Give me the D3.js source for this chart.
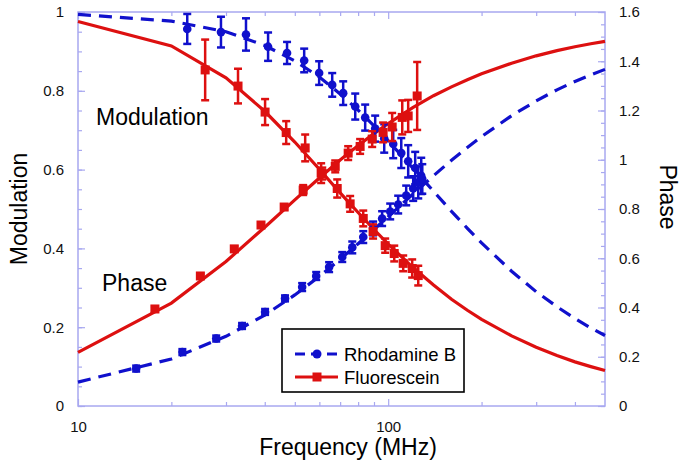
<!DOCTYPE html>
<html><head><meta charset="utf-8">
<script src="https://cdn.jsdelivr.net/npm/d3@7"></script>
<style>body{margin:0;background:#fff}svg{display:block;font-family:"Liberation Sans",Arial,sans-serif}</style>
</head><body><svg id="c" width="683" height="470"></svg>
<script>
// ---- data ----
const curveFreq = [10,20,30,40,50,60,70,80,90,100,120,140,160,180,200,250,300,350,400,450,500];
const fluorModCurve   = [0.976,0.914,0.833,0.748,0.670,0.601,0.541,0.491,0.448,0.411,0.352,0.307,0.271,0.243,0.220,0.178,0.149,0.128,0.112,0.100,0.090];
const fluorPhaseCurve = [0.218,0.418,0.587,0.726,0.837,0.926,0.999,1.058,1.106,1.147,1.212,1.260,1.296,1.325,1.349,1.392,1.422,1.443,1.459,1.471,1.481];
const rhodModCurve    = [0.994,0.977,0.950,0.915,0.876,0.835,0.792,0.751,0.711,0.673,0.604,0.545,0.494,0.451,0.414,0.342,0.290,0.252,0.222,0.198,0.179];
const rhodPhaseCurve  = [0.097,0.191,0.283,0.369,0.451,0.526,0.596,0.659,0.717,0.769,0.860,0.935,0.998,1.050,1.094,1.179,1.239,1.284,1.318,1.345,1.367];

const fluorModFreq = [25.7,32.8,40.1,46.9,54.0,60.8,68.5,75.4,83.1,89.4,97.8,104.6,111.8,119.5,125.0];
const fluorMod     = [0.853,0.812,0.746,0.694,0.655,0.591,0.552,0.513,0.476,0.443,0.407,0.387,0.362,0.349,0.331];
const fluorModErr  = [0.077,0.044,0.033,0.029,0.034,0.025,0.023,0.020,0.020,0.018,0.018,0.020,0.020,0.023,0.025];

const fluorPhaseFreq = [17.7,24.8,31.9,38.9,46.2,53.2,61.3,67.5,74.3,81.2,88.8,96.3,103.0,111.0,116.0,124.0];
const fluorPhase     = [0.394,0.528,0.638,0.735,0.808,0.877,0.944,0.973,1.027,1.054,1.084,1.111,1.133,1.172,1.178,1.259];
const fluorPhaseErr  = [0.010,0.010,0.010,0.010,0.010,0.020,0.024,0.024,0.028,0.030,0.032,0.040,0.057,0.069,0.065,0.138];

const rhodModFreq = [22.5,28.9,34.8,41.0,47.2,53.6,59.9,66.0,71.6,78.3,84.3,90.8,97.1,103.8,110.2,116.0,122.2,127.8];
const rhodMod     = [0.957,0.949,0.943,0.912,0.896,0.877,0.845,0.815,0.794,0.760,0.732,0.704,0.679,0.665,0.642,0.621,0.604,0.584];
const rhodModErr  = [0.038,0.039,0.041,0.036,0.028,0.030,0.030,0.030,0.030,0.033,0.033,0.033,0.036,0.036,0.038,0.041,0.041,0.046];

const rhodPhaseFreq = [15.4,21.7,27.9,33.8,40.1,46.5,52.8,58.6,64.5,71.1,76.6,83.1,89.4,95.6,101.5,107.7,114.3,120.4,125.0,128.8];
const rhodPhase     = [0.152,0.219,0.274,0.325,0.382,0.437,0.483,0.528,0.564,0.605,0.644,0.686,0.721,0.761,0.790,0.818,0.855,0.883,0.908,0.922];
const rhodPhaseErr  = [0.012,0.012,0.012,0.012,0.012,0.012,0.016,0.016,0.020,0.020,0.024,0.024,0.028,0.030,0.032,0.036,0.040,0.050,0.065,0.060];

const leftTicks  = [0,0.2,0.4,0.6,0.8,1];
const rightTicks = [0,0.2,0.4,0.6,0.8,1,1.2,1.4,1.6];
const xMajor = [10,100];
const xMinor = [20,30,40,50,60,70,80,90,200,300,400];
const seriesNames = ["Rhodamine B","Fluorescein"];

// ---- layout ----
const L=78,R=605,T=12,B=406;
const RED="#dd1010", BLUE="#1010cc", FRAME="#a8a8f0";
const svg=d3.select("#c");
const x=d3.scaleLog().domain([10,500]).range([L,R]);
const yL=d3.scaleLinear().domain([0,1]).range([B,T]);
const yR=d3.scaleLinear().domain([0,1.6]).range([B,T]);

function styleAxis(g){
  g.select(".domain").remove();
  g.selectAll(".tick line").attr("stroke",FRAME).attr("stroke-width",1.2);
  g.selectAll("text").attr("font-size",15).attr("fill","#111").attr("font-family","Liberation Sans, Arial, sans-serif");
}
// minor ticks
const minorL=d3.range(0,1.0001,0.05), minorR=d3.range(0,1.6001,0.05);
svg.append("g").attr("transform",`translate(${L},0)`).call(d3.axisLeft(yL).tickValues(minorL).tickSize(-4).tickFormat("")).call(styleAxis);
svg.append("g").attr("transform",`translate(${L},0)`).call(d3.axisLeft(yL).tickValues(leftTicks).tickSizeInner(-7).tickSizeOuter(0).tickPadding(14).tickFormat(d3.format("~g"))).call(styleAxis);
svg.append("g").attr("transform",`translate(${R},0)`).call(d3.axisRight(yR).tickValues(minorR).tickSize(-4).tickFormat("")).call(styleAxis);
svg.append("g").attr("transform",`translate(${R},0)`).call(d3.axisRight(yR).tickValues(rightTicks).tickSizeInner(-7).tickSizeOuter(0).tickPadding(14).tickFormat(d3.format("~g"))).call(styleAxis);
svg.append("g").attr("transform",`translate(0,${B})`).call(d3.axisBottom(x).tickValues(xMinor).tickSize(-4).tickFormat("")).call(styleAxis);
svg.append("g").attr("transform",`translate(0,${B})`).call(d3.axisBottom(x).tickValues(xMajor).tickSizeInner(-7).tickSizeOuter(0).tickPadding(15).tickFormat(d3.format("d"))).call(styleAxis);
svg.append("g").attr("transform",`translate(0,${T})`).call(d3.axisTop(x).tickValues(xMinor).tickSize(-4).tickFormat("")).call(styleAxis);
svg.append("g").attr("transform",`translate(0,${T})`).call(d3.axisTop(x).tickValues(xMajor).tickSize(-7).tickFormat("")).call(styleAxis);
svg.append("rect").attr("x",L).attr("y",T).attr("width",R-L).attr("height",B-T).attr("fill","none").attr("stroke",FRAME).attr("stroke-width",1.5);

// ---- curves ----
function curve(vals,ys,color,dash){
  const line=d3.line().x((d,i)=>x(curveFreq[i])).y(d=>ys(d));
  svg.append("path").datum(vals).attr("d",line).attr("fill","none").attr("stroke",color).attr("stroke-width",3.2).attr("stroke-dasharray",dash||null);
}
curve(rhodModCurve,yL,BLUE,"13,8");
curve(rhodPhaseCurve,yR,BLUE,"13,8");
curve(fluorModCurve,yL,RED);
curve(fluorPhaseCurve,yR,RED);

// ---- points ----
function points(fr,vals,err,ys,color,shape){
  const g=svg.append("g");
  const data=fr.map((f,i)=>({f,v:vals[i],e:err[i]}));
  const eb=g.selectAll(".eb").data(data).enter().append("g").attr("stroke",color).attr("stroke-width",2.5);
  eb.append("line").attr("x1",d=>x(d.f)).attr("x2",d=>x(d.f)).attr("y1",d=>ys(d.v-d.e)).attr("y2",d=>ys(d.v+d.e));
  eb.append("line").attr("x1",d=>x(d.f)-4).attr("x2",d=>x(d.f)+4).attr("y1",d=>ys(d.v-d.e)).attr("y2",d=>ys(d.v-d.e));
  eb.append("line").attr("x1",d=>x(d.f)-4).attr("x2",d=>x(d.f)+4).attr("y1",d=>ys(d.v+d.e)).attr("y2",d=>ys(d.v+d.e));
  if(shape==="square"){
    g.selectAll(".m").data(data).enter().append("rect").attr("x",d=>x(d.f)-4.5).attr("y",d=>ys(d.v)-4.5).attr("width",9).attr("height",9).attr("fill",color);
  } else {
    g.selectAll(".m").data(data).enter().append("circle").attr("cx",d=>x(d.f)).attr("cy",d=>ys(d.v)).attr("r",4.3).attr("fill",color);
  }
}
points(rhodModFreq,rhodMod,rhodModErr,yL,BLUE,"circle");
points(rhodPhaseFreq,rhodPhase,rhodPhaseErr,yR,BLUE,"circle");
points(fluorModFreq,fluorMod,fluorModErr,yL,RED,"square");
points(fluorPhaseFreq,fluorPhase,fluorPhaseErr,yR,RED,"square");

// ---- texts ----
const F="Liberation Sans, Arial, sans-serif";
svg.append("text").attr("x",96).attr("y",125).attr("font-size",23).attr("font-family",F).text("Modulation");
svg.append("text").attr("x",102).attr("y",291).attr("font-size",23).attr("font-family",F).text("Phase");
svg.append("text").attr("x",348).attr("y",455).attr("text-anchor","middle").attr("font-size",23).attr("font-family",F).text("Frequency (MHz)");
svg.append("text").attr("transform","translate(27,209) rotate(-90)").attr("text-anchor","middle").attr("font-size",23).attr("font-family",F).text("Modulation");
svg.append("text").attr("transform","translate(660,197) rotate(90)").attr("text-anchor","middle").attr("font-size",23).attr("font-family",F).text("Phase");

// ---- legend ----
const lg=svg.append("g");
lg.append("rect").attr("x",282).attr("y",329).attr("width",182).attr("height",63).attr("fill","#fff").attr("stroke","#000").attr("stroke-width",1.6);
const legCols=[BLUE,RED], legY=[354,377];
seriesNames.forEach((n,i)=>{
  lg.append("line").attr("x1",295).attr("x2",338).attr("y1",legY[i]).attr("y2",legY[i]).attr("stroke",legCols[i]).attr("stroke-width",3).attr("stroke-dasharray",i===0?"10,6":null);
  if(i===0) lg.append("circle").attr("cx",317).attr("cy",legY[i]).attr("r",4.5).attr("fill",BLUE);
  else lg.append("rect").attr("x",312.5).attr("y",legY[i]-4.5).attr("width",9).attr("height",9).attr("fill",RED);
  lg.append("text").attr("x",344).attr("y",legY[i]+6.5).attr("font-size",18.5).attr("font-family",F).text(n);
});
</script></body></html>
